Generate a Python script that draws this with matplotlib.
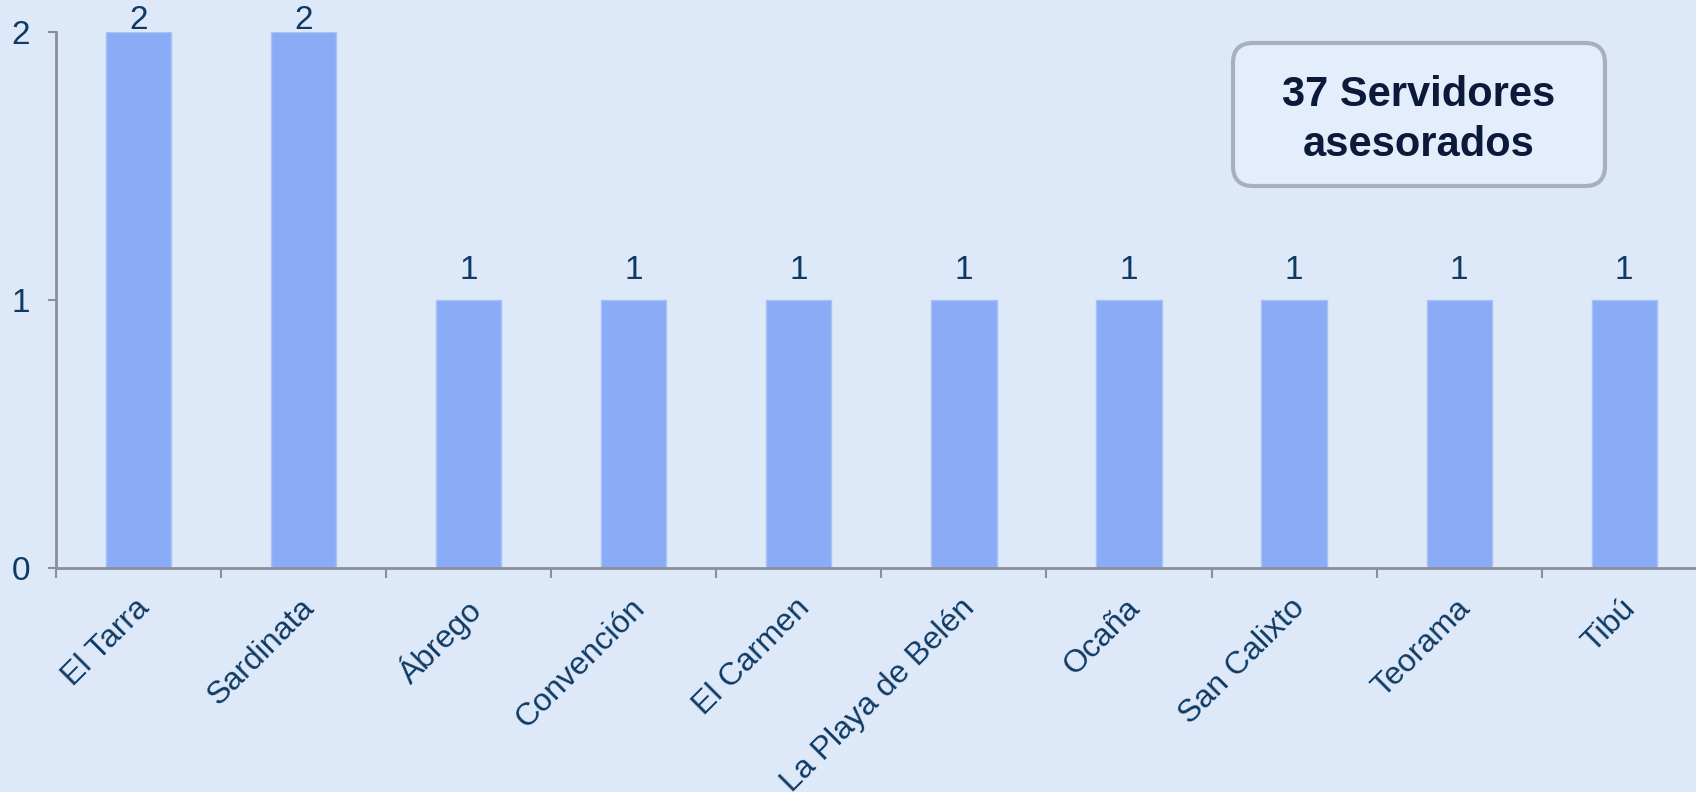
import matplotlib.pyplot as plt
import matplotlib.transforms as mtransforms
from matplotlib.patches import FancyBboxPatch
import numpy as np

# Data
municipios = ['El Tarra', 'Sardinata', 'Ábrego', 'Convención', 'El Carmen',
              'La Playa de Belén', 'Ocaña', 'San Calixto', 'Teorama', 'Tibú']
servidores = [2, 2, 1, 1, 1, 1, 1, 1, 1, 1]
total_texto = '37 Servidores\nasesorados'

bg = '#dde9f9'
bar_color = '#8aacf7'
text_color = '#0f3a63'
axis_color = '#8a8f9a'

plt.rcParams['font.family'] = ['Liberation Sans', 'DejaVu Sans']

fig = plt.figure(figsize=(16.96, 7.92), dpi=100, facecolor=bg)
ax = fig.add_axes([0.0333, 0.2828, 0.9729, 0.6768])
ax.set_facecolor(bg)

x = np.arange(len(municipios))
bars = ax.bar(x, servidores, width=0.394, color=bar_color,
              edgecolor='#a9c1f5', linewidth=1, zorder=2)

ax.set_xlim(-0.5, len(municipios) - 0.5)
ax.set_ylim(0, 2)

# Ticks
ax.set_yticks([0, 1, 2])
ax.tick_params(axis='y', colors=axis_color, labelcolor=text_color,
               labelsize=24, length=6, width=1.5, pad=13)
ax.set_xticks(x)
ax.set_xticklabels(municipios, rotation=45, ha='right', va='top',
                   rotation_mode='anchor', color=text_color, fontsize=23)
ax.tick_params(axis='x', which='major', length=0, pad=18)
shift = mtransforms.ScaledTranslation(-3 / 72, 0, fig.dpi_scale_trans)
for lab in ax.get_xticklabels():
    lab.set_transform(lab.get_transform() + shift)
ax.set_xticks(np.arange(len(municipios)) - 0.5, minor=True)
ax.tick_params(axis='x', which='minor', colors=axis_color, length=7, width=1.5)

for s in ['top', 'right']:
    ax.spines[s].set_visible(False)
for s in ['left', 'bottom']:
    ax.spines[s].set_color(axis_color)
    ax.spines[s].set_linewidth(2)

# Value labels
top = max(servidores)
for bar, v in zip(bars, servidores):
    off = 10 if v < top else -3
    ax.annotate(f'{v}', (bar.get_x() + bar.get_width() / 2, v),
                xytext=(0, off), textcoords='offset points',
                ha='center', va='bottom', fontsize=24, color=text_color,
                annotation_clip=False)

# Summary box
box = FancyBboxPatch((1233, 792 - 186), 372, 143,
                     boxstyle='round,pad=0,rounding_size=20',
                     transform=None, facecolor='#e3edfc',
                     edgecolor='#a8b0bc', linewidth=3)
fig.patches.append(box)
fig.text(1419 / 1696, 1 - 120 / 792, total_texto, ha='center', va='center',
         fontsize=30, fontweight='bold', color='#0b1a38', linespacing=1.3)

fig.savefig('out.png', dpi=100, facecolor=bg)
